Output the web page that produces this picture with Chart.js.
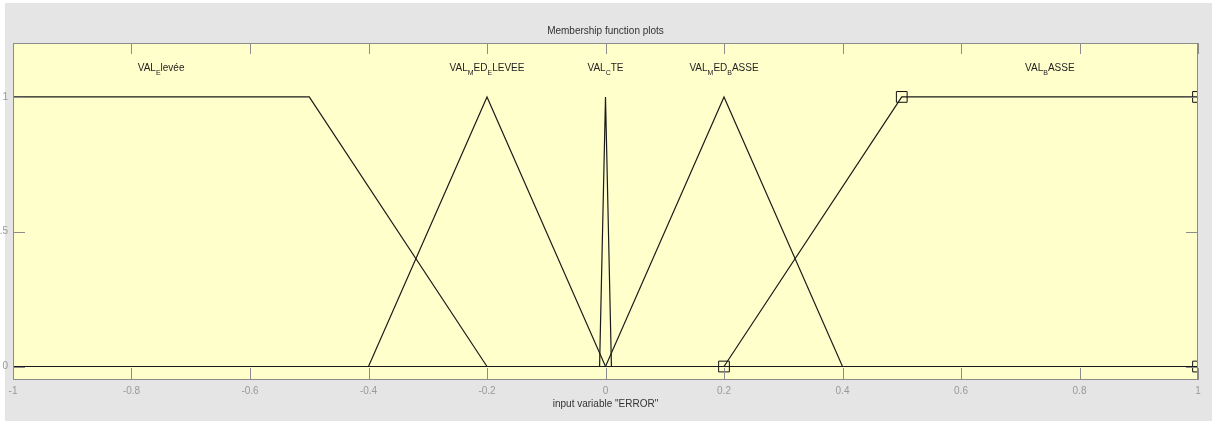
<!DOCTYPE html>
<html>
<head>
<meta charset="utf-8">
<title>Membership function plots</title>
<script src="https://cdn.jsdelivr.net/npm/chart.js@4/dist/chart.umd.min.js"></script>
<style>
  html, body { margin: 0; padding: 0; background: #e5e5e5; }
  #wrap { position: relative; width: 1212px; height: 421px; }
</style>
</head>
<body>
<div id="wrap"><canvas id="mfChart" width="1212" height="421"></canvas></div>
<script>
// membership functions of input variable "ERROR"
const mfNames = ["VAL_Elevée", "VAL_MED_ELEVEE", "VAL_CTE", "VAL_MED_BASSE", "VAL_BASSE"];
const mfX = [
  [-1, -0.5, -0.2, 1],
  [-1, -0.4, -0.2, 0, 1],
  [-1, -0.01, 0, 0.01, 1],
  [-1, 0, 0.2, 0.4, 1],
  [-1, 0.2, 0.5, 1],
];
const mfY = [
  [1, 1, 0, 0],
  [0, 0, 1, 0, 0],
  [0, 0, 1, 0, 0],
  [0, 0, 1, 0, 0],
  [0, 0, 1, 1],
];
// corner markers of the selected MF (VAL_BASSE)
const markerX = [0.2, 0.5, 1, 1];
const markerY = [0, 1, 1, 0];

const xTicks = [-1, -0.8, -0.6, -0.4, -0.2, 0, 0.2, 0.4, 0.6, 0.8, 1];
const yTicks = [0, 0.5, 1];
const plotTitle = "Membership function plots";
const xAxisTitle = 'input variable "ERROR"';

const FONT = "'Liberation Sans', Arial, sans-serif";
const labelY = 1.11;

// label sits over the middle of the plateau (or peak) of each MF
function labelCenter(xs, ys) {
  const top = xs.filter((x, i) => ys[i] === 1);
  return (Math.min(...top) + Math.max(...top)) / 2;
}

// MATLAB style: char after "_" is a subscript
function drawTexLabel(ctx, text, cx, cy) {
  const parts = [];
  for (let i = 0; i < text.length; i++) {
    if (text[i] === "_" && i + 1 < text.length) {
      parts.push({ t: text[i + 1], sub: true });
      i++;
    } else {
      const last = parts[parts.length - 1];
      if (last && !last.sub) last.t += text[i];
      else parts.push({ t: text[i], sub: false });
    }
  }
  const big = "10px " + FONT;
  const small = "7px " + FONT;
  let w = 0;
  parts.forEach((p) => {
    ctx.font = p.sub ? small : big;
    p.w = ctx.measureText(p.t).width;
    w += p.w;
  });
  let x = cx - w / 2;
  ctx.textAlign = "left";
  ctx.textBaseline = "alphabetic";
  parts.forEach((p) => {
    ctx.font = p.sub ? small : big;
    ctx.fillText(p.t, x, p.sub ? cy + 4 : cy);
    x += p.w;
  });
}

const matlabFrame = {
  id: "matlabFrame",
  beforeDraw(chart) {
    const { ctx, chartArea: a } = chart;
    ctx.save();
    ctx.fillStyle = "#e5e5e5";
    ctx.fillRect(0, 0, chart.width, chart.height);
    ctx.fillStyle = "#ffffff";
    ctx.fillRect(0, 0, chart.width, 3);
    ctx.fillRect(0, 0, 5, chart.height);
    ctx.fillStyle = "#ffffcc";
    ctx.fillRect(a.left, a.top, a.right - a.left, a.bottom - a.top);
    ctx.restore();
  },
  afterDraw(chart) {
    const { ctx, chartArea: a, scales } = chart;
    ctx.save();
    // box and inward ticks
    ctx.strokeStyle = "#8c8c8c";
    ctx.lineWidth = 1;
    ctx.beginPath();
    xTicks.forEach((v) => {
      const px = Math.round(scales.x.getPixelForValue(v)) + 0.5;
      ctx.moveTo(px, a.bottom);
      ctx.lineTo(px, a.bottom - 12);
      ctx.moveTo(px, a.top);
      ctx.lineTo(px, a.top + 11);
    });
    yTicks.forEach((v) => {
      const py = Math.round(scales.y.getPixelForValue(v)) + 0.5;
      ctx.moveTo(a.left, py);
      ctx.lineTo(a.left + 12, py);
      ctx.moveTo(a.right, py);
      ctx.lineTo(a.right - 12, py);
    });
    ctx.stroke();
    ctx.strokeRect(a.left + 0.5, a.top + 0.5, a.right - a.left - 1, a.bottom - a.top - 1);

    // MF names
    ctx.fillStyle = "#222";
    mfNames.forEach((name, i) => {
      const cx = scales.x.getPixelForValue(labelCenter(mfX[i], mfY[i]));
      const cy = scales.y.getPixelForValue(labelY);
      drawTexLabel(ctx, name, cx, cy + 4);
    });

    // titles
    ctx.font = "10px " + FONT;
    ctx.textAlign = "center";
    ctx.textBaseline = "middle";
    ctx.fillStyle = "#333";
    const mid = (a.left + a.right) / 2;
    ctx.fillText(plotTitle, mid, 31);
    ctx.fillText(xAxisTitle, mid, 404);
    ctx.restore();
  },
};

const datasets = mfNames.map((name, i) => ({
  label: name,
  data: mfX[i].map((x, j) => ({ x, y: mfY[i][j] })),
  borderColor: "#1a1a1a",
  borderWidth: 1.2,
  pointRadius: 0,
  tension: 0,
  fill: false,
}));
datasets.push({
  label: "markers",
  data: markerX.map((x, j) => ({ x, y: markerY[j] })),
  showLine: false,
  pointStyle: "rect",
  pointRadius: 7.6,
  pointBorderWidth: 1,
  pointBorderColor: "#111",
  pointBackgroundColor: "rgba(0,0,0,0)",
});

new Chart(document.getElementById("mfChart"), {
  type: "line",
  data: { datasets },
  plugins: [matlabFrame],
  options: {
    responsive: false,
    animation: false,
    events: [],
    layout: { padding: { top: 43, right: 14, left: 0, bottom: 0 } },
    plugins: { legend: { display: false }, tooltip: { enabled: false } },
    scales: {
      x: {
        type: "linear",
        min: -1,
        max: 1,
        afterBuildTicks: (scale) => {
          scale.ticks = xTicks.map((value) => ({ value }));
        },
        afterFit: (scale) => {
          scale.height = 41;
        },
        grid: { display: false, drawTicks: false },
        border: { display: false },
        ticks: {
          padding: 5,
          color: "#999999",
          font: { family: FONT, size: 10 },
          maxRotation: 0,
          autoSkip: false,
          callback: (v) => String(Math.round(v * 10) / 10),
        },
      },
      y: {
        type: "linear",
        min: -0.05,
        max: 1.2,
        afterBuildTicks: (scale) => {
          scale.ticks = yTicks.map((value) => ({ value }));
        },
        afterFit: (scale) => {
          scale.width = 13;
        },
        grid: { display: false, drawTicks: false },
        border: { display: false },
        ticks: {
          padding: 5,
          color: "#999999",
          font: { family: FONT, size: 10 },
          callback: (v) => String(v),
        },
      },
    },
  },
});
</script>
</body>
</html>
